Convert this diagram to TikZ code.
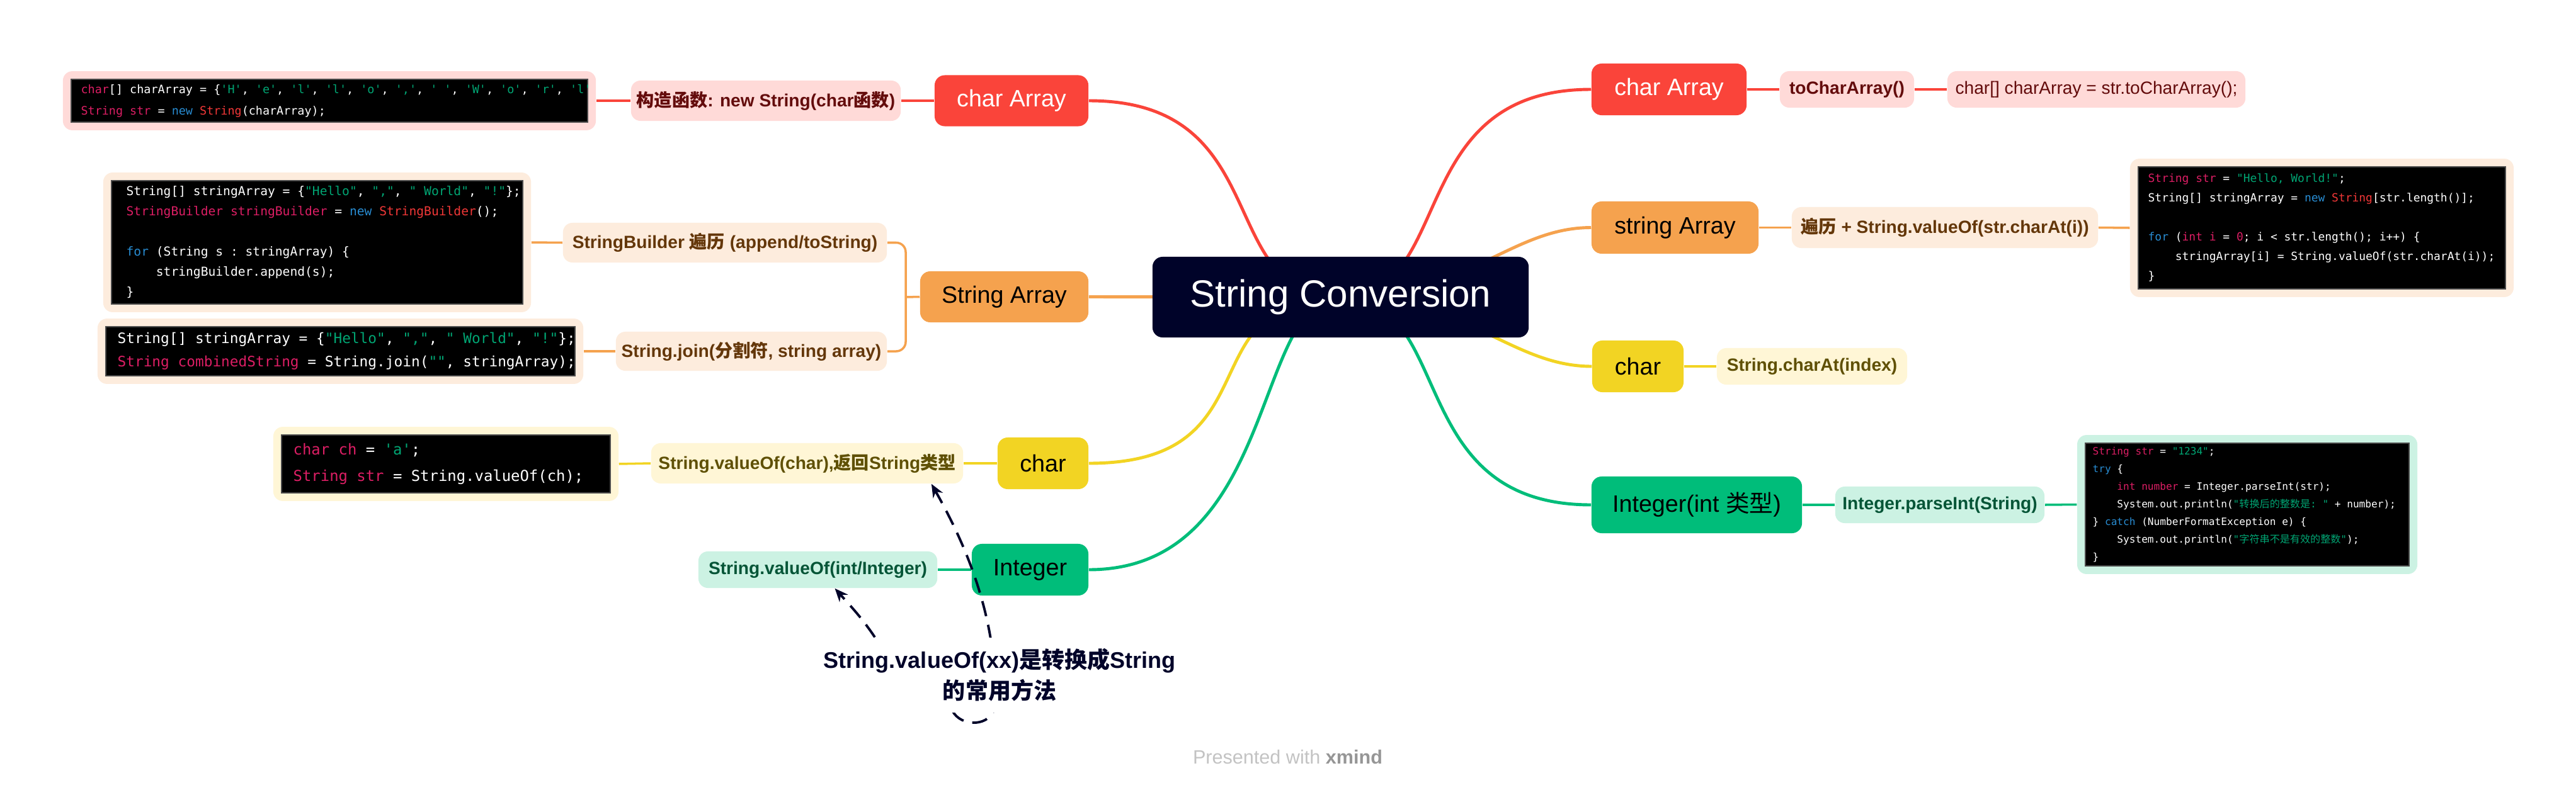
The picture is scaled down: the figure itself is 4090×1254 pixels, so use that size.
\documentclass[tikz,border=0pt]{standalone}
\usepackage{fontspec}
\setmainfont{Liberation Sans}
\setmonofont{DejaVu Sans Mono}
\newfontfamily\zhfont{Noto Sans CJK SC}
\newcommand{\zh}[1]{{\zhfont #1}}
\usepackage{xcolor}
\usetikzlibrary{arrows.meta, backgrounds, fit, calc}
\pgfdeclarelayer{front}
\pgfsetlayers{background,main,front}

\definecolor{xnavy}{RGB}{0,3,41}
\definecolor{xred}{RGB}{250,68,58}
\definecolor{xredl}{RGB}{255,218,216}
\definecolor{xredd}{RGB}{100,12,12}
\definecolor{xorange}{RGB}{245,162,78}
\definecolor{xorangel}{RGB}{253,236,221}
\definecolor{xoranged}{RGB}{100,55,10}
\definecolor{xyellow}{RGB}{242,212,35}
\definecolor{xyellowl}{RGB}{255,246,214}
\definecolor{xyellowd}{RGB}{95,80,5}
\definecolor{xgreen}{RGB}{0,189,122}
\definecolor{xgreenl}{RGB}{204,242,227}
\definecolor{xgreend}{RGB}{5,85,55}
\definecolor{cpink}{RGB}{220,30,100}
\definecolor{cgreen}{RGB}{0,165,115}
\definecolor{cblue}{RGB}{40,140,210}
\definecolor{cred}{RGB}{240,55,55}
\definecolor{footgray}{RGB}{195,195,195}
\definecolor{footdark}{RGB}{150,150,150}

% code colours
\newcommand{\jkw}[1]{\textcolor{cpink}{#1}}
\newcommand{\jstr}[1]{\textcolor{cgreen}{#1}}
\newcommand{\jnew}[1]{\textcolor{cblue}{#1}}
\newcommand{\jcls}[1]{\textcolor{cred}{#1}}

\begin{document}
\begin{tikzpicture}[x=0.01cm, y=-0.01cm,
  topic/.style={rounded corners=0.16cm, inner sep=0pt, minimum height=0.82cm,
    font=\fontsize{10.7pt}{12pt}\selectfont},
  redtopic/.style={topic, fill=xred, text=white},
  orangetopic/.style={topic, fill=xorange, text=black},
  yellowtopic/.style={topic, fill=xyellow, text=black},
  greentopic/.style={topic, fill=xgreen, text=black},
  subtopic/.style={rounded corners=0.15cm, inner sep=0pt, minimum height=0.58cm,
    font=\bfseries\fontsize{8pt}{9.5pt}\selectfont},
  redsub/.style={subtopic, fill=xredl, text=xredd},
  orangesub/.style={subtopic, fill=xorangel, text=xoranged},
  yellowsub/.style={subtopic, fill=xyellowl, text=xyellowd},
  greensub/.style={subtopic, fill=xgreenl, text=xgreend},
  codebg/.style={fill=black, draw=black!70!white, line width=0.5pt, inner sep=0pt},
  codetxt/.style 2 args={text=white, align=left, inner sep=0pt, anchor=west,
    font=\ttfamily\fontsize{#1}{#2}\selectfont},
  codeframe/.style={rounded corners=0.15cm, inner sep=0.12cm},
  mainlink/.style={line width=1.4pt},
  sublink/.style={line width=1pt},
  relline/.style={xnavy, line width=1.1pt, dash pattern=on 7pt off 4pt,
    -{Stealth[length=6pt, width=5pt]}},
  tipnote/.style={fill=white, text=xnavy, align=center, inner xsep=0.04cm,
    inner ysep=0pt, minimum height=1.19cm,
    font=\bfseries\fontsize{10.24pt}{13.94pt}\selectfont}]

  \useasboundingbox (0,0) rectangle (4090,1254);
  \begin{scope}[on background layer]
    \fill[white] (0,0) rectangle (4090,1254);
  \end{scope}

  % centre
  \node[fill=xnavy, text=white, rounded corners=0.16cm, inner sep=0pt,
    minimum width=5.97cm, minimum height=1.28cm,
    font=\fontsize{17.1pt}{20pt}\selectfont] (conv) at (2128.5,472) {String Conversion};

  % left: char Array
  \node[redtopic, minimum width=2.44cm, minimum height=0.81cm] (lca) at (1606,160) {char Array};
  \node[redsub, minimum width=4.28cm, minimum height=0.64cm] (lcons) at (1216,160)
    {\zh{构造函数}: new String(char\zh{函数})};
  \node[codebg, minimum width=8.2cm, minimum height=0.68cm] (lcacode) at (523,160) {};
  \begin{scope}
    \clip (lcacode.south west) rectangle (lcacode.north east);
    \node[codetxt={5.24pt}{9.67pt}] (lcatext) at ($(lcacode.west)+(16,0)$)
      {\jkw{char}[] charArray = \{\jstr{'H'}, \jstr{'e'}, \jstr{'l'}, \jstr{'l'}, \jstr{'o'}, \jstr{','}, \jstr{' '}, \jstr{'W'}, \jstr{'o'}, \jstr{'r'}, \jstr{'l'}, \jstr{'d'}, \jstr{'!'}\};\\
       \jkw{String str} = \jnew{new} \jcls{String}(charArray);};
  \end{scope}

  % left: String Array
  \node[orangetopic, minimum width=2.67cm, minimum height=0.81cm] (lsa) at (1594.5,471.5) {String Array};
  \coordinate (brk) at (1438,472);
  \node[orangesub, minimum width=5.14cm, minimum height=0.63cm] (lsb) at (1151,385.5)
    {StringBuilder \zh{遍历} (append/toString)};
  \node[codebg, minimum width=6.53cm, minimum height=1.96cm] (lsbcode) at (503.5,385) {};
  \node[codetxt={5.58pt}{9.1pt}] (lsbtext) at ($(lsbcode.west)+(24,0)$)
    {String[] stringArray = \{\jstr{"Hello"}, \jstr{","}, \jstr{" World"}, \jstr{"!"}\};\\
     \jkw{StringBuilder stringBuilder} = \jnew{new} \jcls{StringBuilder}();\\
     \mbox{}\\
     \jnew{for} (String s : stringArray) \{\\
     \phantom{0000}stringBuilder.append(s);\\
     \}};
  \node[orangesub, minimum width=4.3cm, minimum height=0.62cm] (ljoin) at (1193,558)
    {String.join(\zh{分割符}, string array)};
  \node[codebg, minimum width=7.45cm, minimum height=0.78cm] (ljoincode) at (540.5,558) {};
  \node[codetxt={6.48pt}{10.5pt}] (ljointext) at ($(ljoincode.west)+(19,0)$)
    {String[] stringArray = \{\jstr{"Hello"}, \jstr{","}, \jstr{" World"}, \jstr{"!"}\};\\
     \jkw{String combinedString} = String.join(\jstr{""}, stringArray);};

  % left: char
  \node[yellowtopic, minimum width=1.44cm] (lch) at (1656,736) {char};
  \node[yellowsub, minimum width=4.95cm, minimum height=0.64cm] (lvc) at (1281.5,736)
    {String.valueOf(char),\zh{返回}String\zh{类型}};
  \node[codebg, minimum width=5.22cm, minimum height=0.92cm] (lchcode) at (708,737) {};
  \node[codetxt={6.8pt}{11.95pt}] (lchtext) at ($(lchcode.west)+(19,0)$)
    {\jkw{char ch} = \jstr{'a'};\\
     \jkw{String str} = String.valueOf(ch);};

  % left: Integer
  \node[greentopic, minimum width=1.85cm] (lint) at (1635.5,905) {Integer};
  \node[greensub, minimum width=3.79cm] (lvi) at (1298.5,905) {String.valueOf(int/Integer)};

  % right: char Array
  \node[redtopic, minimum width=2.46cm] (rca) at (2650,142) {char Array};
  \node[redsub, minimum width=2.13cm] (rtca) at (2932.5,142) {toCharArray()};
  \node[redsub, font=\fontsize{8pt}{9.5pt}\selectfont, minimum width=4.73cm] (rtcacode)
    at (3328.5,142) {char[] charArray = str.toCharArray();};

  % right: string Array
  \node[orangetopic, minimum width=2.65cm, minimum height=0.83cm] (rsa) at (2659.5,361.5) {string Array};
  \node[orangesub, minimum width=4.86cm, minimum height=0.65cm] (rloop) at (3088,361.5)
    {\zh{遍历} + String.valueOf(str.charAt(i))};
  \node[codebg, minimum width=5.83cm, minimum height=1.94cm] (rsacode) at (3686.5,362) {};
  \node[codetxt={5.1pt}{8.82pt}] (rsatext) at ($(rsacode.west)+(16,0)$)
    {\jkw{String str} = \jstr{"Hello, World!"};\\
     String[] stringArray = \jnew{new} \jcls{String}[str.length()];\\
     \mbox{}\\
     \jnew{for} (\jkw{int i} = \jkw{0}; i < str.length(); i++) \{\\
     \phantom{0000}stringArray[i] = String.valueOf(str.charAt(i));\\
     \}};

  % right: char
  \node[yellowtopic, minimum width=1.45cm] (rch) at (2600.5,582) {char};
  \node[yellowsub, minimum width=3.02cm] (rcat) at (2877,582) {String.charAt(index)};

  % right: Integer
  \node[greentopic, minimum width=3.34cm, minimum height=0.9cm] (rint) at (2694,802) {Integer(int \zh{类型})};
  \node[greensub, minimum width=3.32cm] (rpi) at (3080,802) {Integer.parseInt(String)};
  \node[codebg, minimum width=5.14cm, minimum height=1.95cm] (rintcode) at (3568,801.5) {};
  \node[codetxt={4.58pt}{7.97pt}] (rinttext) at ($(rintcode.west)+(12,0)$)
    {\jkw{String str} = \jstr{"1234"};\\
     \jnew{try} \{\\
     \phantom{0000}\jkw{int number} = Integer.parseInt(str);\\
     \phantom{0000}System.out.println(\jstr{"\zh{转换后的整数是}: "} + number);\\
     \} \jnew{catch} (NumberFormatException e) \{\\
     \phantom{0000}System.out.println(\jstr{"\zh{字符串不是有效的整数}"});\\
     \}};

  % frames and connectors
  \begin{scope}[on background layer]
    \node[codeframe, fill=xredl, fit=(lcacode)] (lcabox) {};
    \node[codeframe, fill=xorangel, fit=(lsbcode)] (lsbbox) {};
    \node[codeframe, fill=xorangel, fit=(ljoincode)] (ljoinbox) {};
    \node[codeframe, fill=xyellowl, fit=(lchcode)] (lchbox) {};
    \node[codeframe, fill=xorangel, fit=(rsacode)] (rsabox) {};
    \node[codeframe, fill=xgreenl, fit=(rintcode)] (rintbox) {};

    \draw[mainlink, xred] (conv.center) .. controls +(-203,0) and +(300,0) .. (lca.east);
    \draw[mainlink, xorange] (conv.center) -- (lsa.east);
    \draw[mainlink, xyellow] (conv.center) .. controls +(-248,0) and +(300,0) .. (lch.east);
    \draw[mainlink, xgreen] (conv.center) .. controls +(-139,0) and +(300,0) .. (lint.east);
    \draw[mainlink, xred] (conv.center) .. controls +(185,0) and +(-300,0) .. (rca.west);
    \draw[mainlink, xorange] (conv.center) .. controls +(200,0) and +(-128,0) .. (rsa.west);
    \draw[mainlink, xyellow] (conv.center) .. controls +(200,0) and +(-128,0) .. (rch.west);
    \draw[mainlink, xgreen] (conv.center) .. controls +(185,0) and +(-300,0) .. (rint.west);

    \draw[sublink, xred] (lca.west) -- (lcons.east);
    \draw[sublink, xred] (lcons.west) -- (lcabox.east);
    \draw[sublink, xorange] (lsa.west) -- (brk);
    \draw[sublink, xorange, rounded corners=0.15cm] (lsb.east) -| (brk) |- (ljoin.east);
    \draw[sublink, xorange] (lsbbox.east) -- (lsb.west);
    \draw[sublink, xorange] (ljoinbox.east) -- (ljoin.west);
    \draw[sublink, xyellow] (lch.west) -- (lvc.east);
    \draw[sublink, xyellow] (lvc.west) -- (lchbox.east);
    \draw[sublink, xgreen] (lint.west) -- (lvi.east);
    \draw[sublink, xred] (rca.east) -- (rtca.west);
    \draw[sublink, xred] (rtca.east) -- (rtcacode.west);
    \draw[sublink, xorange] (rsa.east) -- (rloop.west);
    \draw[sublink, xorange] (rloop.east) -- (rsabox.west);
    \draw[sublink, xyellow] (rch.east) -- (rcat.west);
    \draw[sublink, xgreen] (rint.east) -- (rpi.west);
    \draw[sublink, xgreen] (rpi.east) -- (rintbox.west);
  \end{scope}

  % floating note
  \begin{pgfonlayer}{front}
    \node[tipnote] (tip) at (1587,1072.5)
      {String.valueOf(xx)\zh{是转换成}String\\\zh{的常用方法}};
  \end{pgfonlayer}
  \draw[relline] ($(tip.north)+(-198,0)$) .. controls +(-20,-30) and +(25,28) .. ($(lvi.south)+(27,0)$);
  \draw[relline] ($(tip.south)+(-75,-4)$) .. controls +(13,27) and +(-5,35) .. ($(tip.south)+(-7,-12)$)
    .. controls +(5,-140) and +(52,92) .. ($(lvc.south east)+(-51,0)$);

  \node[font=\fontsize{8.7pt}{10pt}\selectfont, text=footgray] (credit) at (2044.5,1203)
    {Presented with \textcolor{footdark}{\bfseries xmind}};
\end{tikzpicture}
\end{document}
